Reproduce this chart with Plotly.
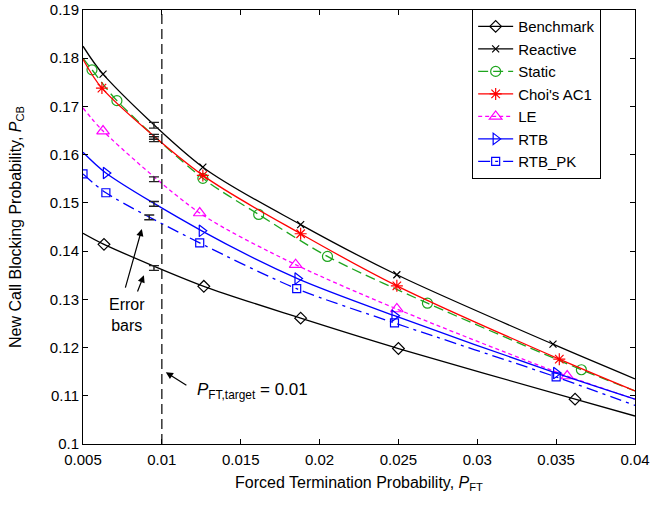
import plotly.graph_objects as go

# ---------------- data ----------------
series_names = ["Benchmark", "Reactive", "Static", "Choi's AC1", "LE", "RTB", "RTB_PK"]

bench_x = [0.005, 0.00633, 0.01266, 0.0188, 0.0250, 0.0362, 0.040]
bench_y = [0.1437, 0.1414, 0.1327, 0.1261, 0.1198, 0.1093, 0.1058]
bench_mk = [1, 2, 3, 4, 5]

react_x = [0.005, 0.00627, 0.0126, 0.0188, 0.0249, 0.0348, 0.040]
react_y = [0.1825, 0.1767, 0.1574, 0.1455, 0.1351, 0.1207, 0.1135]
react_mk = [1, 2, 3, 4, 5]

static_x = [0.005, 0.00557, 0.00715, 0.0126, 0.01614, 0.0205, 0.02684, 0.0366, 0.040]
static_y = [0.1800, 0.1776, 0.1712, 0.1551, 0.1476, 0.1389, 0.1292, 0.1154, 0.1110]
static_mk = [1, 2, 3, 4, 5, 6, 7]

choi_x = [0.005, 0.0062, 0.0126, 0.0188, 0.0249, 0.0352, 0.040]
choi_y = [0.1798, 0.1738, 0.1557, 0.1436, 0.1328, 0.1176, 0.1110]
choi_mk = [1, 2, 3, 4, 5]

le_x = [0.005, 0.00627, 0.0124, 0.01848, 0.0249, 0.0357, 0.040]
le_y = [0.1697, 0.1649, 0.1479, 0.1372, 0.1280, 0.1141, 0.1093]
le_mk = [1, 2, 3, 4, 5]

rtb_x = [0.005, 0.00645, 0.01253, 0.0186, 0.02475, 0.0350, 0.040]
rtb_y = [0.1605, 0.1562, 0.1442, 0.1343, 0.1266, 0.1147, 0.1093]
rtb_mk = [1, 2, 3, 4, 5]

rtbpk_x = [0.005, 0.00645, 0.0124, 0.01855, 0.02475, 0.0350, 0.040]
rtbpk_y = [0.1560, 0.1521, 0.1417, 0.1322, 0.1251, 0.1139, 0.1080]
rtbpk_mk = [0, 1, 2, 3, 4, 5]

# error bars (simulation confidence intervals)
err_x = [0.0095, 0.0095, 0.0095, 0.0095, 0.0095, 0.0092, 0.0095]
err_y = [0.1661, 0.1637, 0.1632, 0.1549, 0.1498, 0.1470, 0.1365]
err_h = [0.0006, 0.0005, 0.0005, 0.0005, 0.0005, 0.0005, 0.0005]

x_ticks = [0.005, 0.01, 0.015, 0.02, 0.025, 0.03, 0.035, 0.04]
x_ticklabels = ["0.005", "0.01", "0.015", "0.02", "0.025", "0.03", "0.035", "0.04"]
y_ticks = [0.1, 0.11, 0.12, 0.13, 0.14, 0.15, 0.16, 0.17, 0.18, 0.19]
y_ticklabels = ["0.1", "0.11", "0.12", "0.13", "0.14", "0.15", "0.16", "0.17", "0.18", "0.19"]

# ---------------- styles ----------------
FONT = "Liberation Sans, Arial, sans-serif"
GREEN = "rgb(30,165,30)"
styles = [
    dict(color="black", dash="solid", symbol="diamond-open", size=9),
    dict(color="black", dash="solid", symbol="x-thin-open", size=7),
    dict(color=GREEN, dash="10px,5px", symbol="circle-open", size=10),
    dict(color="red", dash="solid", symbol="asterisk-open", size=10),
    dict(color="magenta", dash="4px,3px", symbol="triangle-up-open", size=11),
    dict(color="blue", dash="solid", symbol="triangle-right-open", size=10),
    dict(color="blue", dash="12px,5px,3px,5px", symbol="square-open", size=8),
]
data = [
    (bench_x, bench_y, bench_mk),
    (react_x, react_y, react_mk),
    (static_x, static_y, static_mk),
    (choi_x, choi_y, choi_mk),
    (le_x, le_y, le_mk),
    (rtb_x, rtb_y, rtb_mk),
    (rtbpk_x, rtbpk_y, rtbpk_mk),
]

fig = go.Figure()
for name, (xs, ys, mk), st in zip(series_names, data, styles):
    fig.add_trace(go.Scatter(
        x=xs, y=ys, mode="lines", line=dict(color=st["color"], width=1.3, dash=st["dash"], shape="spline", smoothing=0.8),
        showlegend=False, hoverinfo="skip"))
    fig.add_trace(go.Scatter(
        x=[xs[i] for i in mk], y=[ys[i] for i in mk], mode="markers",
        marker=dict(symbol=st["symbol"], size=st["size"], color=st["color"], line=dict(width=1.2, color=st["color"])),
        showlegend=False))
    fig.add_trace(go.Scatter(
        x=[None], y=[None], mode="lines+markers", name=name,
        line=dict(color=st["color"], width=1.3, dash=st["dash"]),
        marker=dict(symbol=st["symbol"], size=st["size"], color=st["color"], line=dict(width=1.2, color=st["color"]))))

fig.add_trace(go.Scatter(
    x=err_x, y=err_y, mode="markers", marker=dict(size=1, color="#222"),
    error_y=dict(type="data", array=err_h, visible=True, color="#222", thickness=1.4, width=5),
    showlegend=False))

fig.add_shape(type="line", x0=0.01, x1=0.01, y0=0.1, y1=0.19, xref="x", yref="y",
              line=dict(color="black", width=1.2, dash="10px,5px"))

afont = dict(family=FONT, size=16, color="black")
fig.add_annotation(x=0.00778, y=0.1267, text="Error<br>bars", showarrow=False, font=afont, xref="x", yref="y")
fig.add_annotation(x=0.00873, y=0.1446, ax=0.00766, ay=0.1321, axref="x", ayref="y", xref="x", yref="y",
                   text="", showarrow=True, arrowhead=2, arrowsize=1.2, arrowwidth=1.2, arrowcolor="black")
fig.add_annotation(x=0.00886, y=0.1350, ax=0.00842, ay=0.1313, axref="x", ayref="y", xref="x", yref="y",
                   text="", showarrow=True, arrowhead=2, arrowsize=1.2, arrowwidth=1.2, arrowcolor="black")
fig.add_annotation(x=0.01209, y=0.1110, text="<i>P</i><sub>FT,target</sub> = 0.01", showarrow=False,
                   xanchor="left", font=dict(family=FONT, size=17, color="black"),
                   xref="x", yref="y")
fig.add_annotation(x=0.01025, y=0.1149, ax=0.01165, ay=0.1120, axref="x", ayref="y", xref="x", yref="y",
                   text="", showarrow=True, arrowhead=2, arrowsize=1.2, arrowwidth=1.2, arrowcolor="black")

axis_common = dict(showline=True, linecolor="black", linewidth=1, mirror="ticks", ticks="inside",
                   ticklen=5, tickcolor="black", showgrid=False, zeroline=False, automargin=True,
                   ticklabeloverflow="allow",
                   tickfont=dict(family=FONT, size=15, color="black"))
fig.update_xaxes(range=[0.005, 0.04], tickvals=x_ticks, ticktext=x_ticklabels, ticklabelstandoff=2,
                 title=dict(text="Forced Termination Probability, <i>P</i><sub>FT</sub>",
                            font=dict(family=FONT, size=16, color="black"), standoff=9),
                 **axis_common)
fig.update_yaxes(range=[0.1, 0.19], tickvals=y_ticks, ticktext=y_ticklabels, ticklabelstandoff=0,
                 title=dict(text="New Call Blocking Probability, <i>P</i><sub>CB</sub>",
                            font=dict(family=FONT, size=16, color="black"), standoff=24),
                 **axis_common)

fig.update_layout(
    width=657, height=508,
    margin=dict(l=83, r=22, t=10, b=64, autoexpand=False),
    plot_bgcolor="white", paper_bgcolor="white",
    legend=dict(x=0.705, y=1.002, xanchor="left", yanchor="top", bgcolor="white",
                bordercolor="black", borderwidth=1,
                font=dict(family=FONT, size=15, color="black"),
                tracegroupgap=0, itemwidth=35),
)

fig.write_html("out.html", config={"displayModeBar": False},
               post_script="document.body.style.margin='0';")
